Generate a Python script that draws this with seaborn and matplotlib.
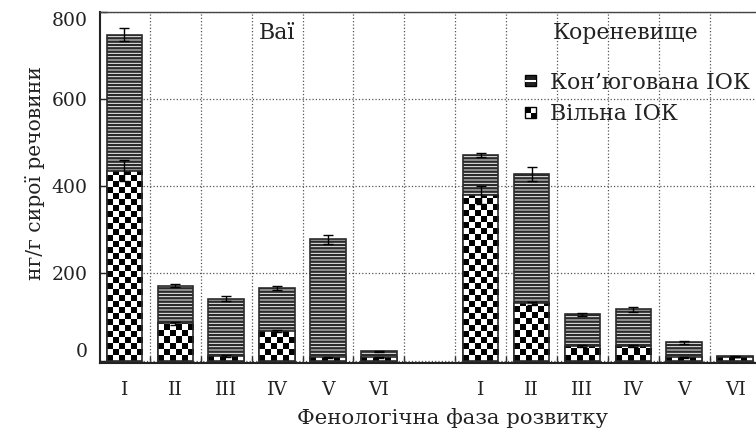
import numpy as np
import pandas as pd
import matplotlib as mpl
mpl.use("Agg")
import matplotlib.pyplot as plt
import seaborn as sns
from matplotlib.legend_handler import HandlerBase
from matplotlib.patches import Rectangle


# data (ng/g fresh weight)
phases = ['I', 'II', 'III', 'IV', 'V', 'VI']
organs = ['Ваї', 'Кореневище']

leaf_free = [436, 85, 10, 68, 7, 7]
leaf_total = [748, 172, 142, 166, 278, 21]
leaf_free_err = [24, 3, 2, 2, 2, 1]
leaf_total_err = [15, 3, 5, 5, 11, 2]

root_free = [380, 131, 33, 33, 7, 8]
root_total = [472, 428, 106, 118, 42, 10]
root_free_err = [20, 4, 2, 2, 1, 1]
root_total_err = [5, 17, 3, 6, 3, 1]

label_conj = 'Кон’югована ІОК'
label_free = 'Вільна ІОК'

CFG_font = 'DejaVu Serif'
CFG_fs_tick = 13.5
CFG_fs_label = 15.3
CFG_fs_ylabel = 14.6
CFG_fs_text = 15.8
CFG_edge = '#2b2b2b'
CFG_text = '#222222'
CFG_cell = 13.8   # checker cell height, data units


def build_frame():
    rows = []
    for organ, free, total, fe, te in ((organs[0], leaf_free, leaf_total, leaf_free_err, leaf_total_err),
                                       (organs[1], root_free, root_total, root_free_err, root_total_err)):
        for p, f, t, a, b in zip(phases, free, total, fe, te):
            rows.append({'key': organ + ' ' + p, 'organ': organ, 'phase': p,
                         'free': f, 'total': t, 'free_err': a, 'total_err': b})
    return pd.DataFrame(rows)


class CheckerHandler(HandlerBase):
    def create_artists(self, legend, orig_handle, xdescent, ydescent, width, height, fontsize, trans):
        s = height
        x0 = -xdescent
        y0 = -ydescent + (height - s) / 2
        h = s / 2
        return [Rectangle((x0, y0), s, s, facecolor='white', edgecolor='none', transform=trans),
                Rectangle((x0, y0 + h), h, h, facecolor='black', edgecolor='none', transform=trans),
                Rectangle((x0 + h, y0), h, h, facecolor='black', edgecolor='none', transform=trans),
                Rectangle((x0, y0), s, s, facecolor='none', edgecolor='black', lw=1, transform=trans)]


class StripeHandler(HandlerBase):
    def create_artists(self, legend, orig_handle, xdescent, ydescent, width, height, fontsize, trans):
        s = height
        x0 = -xdescent
        y0 = -ydescent + (height - s) / 2
        return [Rectangle((x0, y0), s, s, facecolor='#222222', edgecolor='black', lw=1, transform=trans),
                Rectangle((x0, y0 + s * 0.4), s, s * 0.2, facecolor='white', edgecolor='none', transform=trans)]


def main():
    df = build_frame()
    order = [organs[0] + ' ' + p for p in phases] + [' '] + [organs[1] + ' ' + p for p in phases]
    ticklabels = phases + [''] + phases

    sns.set_style('ticks')
    plt.rcParams['font.family'] = [CFG_font, 'DejaVu Sans']
    plt.rcParams['hatch.linewidth'] = 1.75

    fig = plt.figure(figsize=(7.56, 4.37), dpi=100)
    ax = fig.add_axes([100 / 756, 74.3 / 437, 656 / 756, 350.7 / 437])

    # conjugated = full stacked height
    sns.barplot(data=df, x='key', y='total', order=order, width=0.7, errorbar=None,
                color='white', edgecolor=CFG_edge, linewidth=1.2, hatch='-----', ax=ax)
    n0 = len(ax.patches)
    sns.barplot(data=df, x='key', y='free', order=order, width=0.7, errorbar=None,
                color='white', edgecolor=CFG_edge, linewidth=1.2, ax=ax)
    free_patches = ax.patches[n0:]

    # checker pattern for the free fraction
    for p in free_patches:
        x0, w, h = p.get_x(), p.get_width(), p.get_height()
        nrows = int(np.ceil(h / CFG_cell)) + 1
        arr = (np.add.outer(np.arange(nrows), np.arange(6)) % 2).astype(float)
        im = ax.imshow(arr, extent=(x0, x0 + w, 0, nrows * CFG_cell), origin='lower',
                       cmap='gray', vmin=0, vmax=1, interpolation='nearest', aspect='auto', zorder=1.5)
        im.set_clip_path(p)
        p.set_facecolor('none')
        p.set_zorder(2)

    xpos = [order.index(k) for k in df['key']]
    ax.errorbar(xpos, df['total'], yerr=df['total_err'], fmt='none', ecolor='black',
                elinewidth=1, capsize=3.8, capthick=1, zorder=3)
    ax.errorbar(xpos, df['free'], yerr=df['free_err'], fmt='none', ecolor='black',
                elinewidth=1, capsize=3.8, capthick=1, zorder=3)

    ax.set_xlim(-0.48, 12.41)
    ax.set_ylim(-5, 800)
    ax.set_xticks(range(len(order)))
    ax.set_xticklabels(ticklabels)
    ax.set_xticks(np.arange(0.5, len(order) - 1, 1.0), minor=True)
    ax.set_yticks(np.arange(0, 801, 200))
    ax.tick_params(axis='x', which='major', length=0, pad=13, labelsize=CFG_fs_tick, colors=CFG_text)
    ax.tick_params(axis='x', which='minor', direction='in', length=5, width=1, color='#333333')
    ax.tick_params(axis='y', direction='in', length=5, width=1, pad=9, labelsize=CFG_fs_tick, colors=CFG_text)

    # end labels sit a little inside in the original
    ylabels = ax.get_yticklabels()
    ylabels[0].set_verticalalignment('bottom')
    ylabels[-1].set_verticalalignment('top')

    ax.grid(True, axis='x', which='minor', linestyle=':', color='#555555', lw=0.9)
    ax.grid(True, axis='y', which='major', linestyle=':', color='#555555', lw=0.9)
    ax.set_axisbelow(True)

    ax.spines['right'].set_visible(False)
    for s in ('left', 'bottom'):
        ax.spines[s].set_linewidth(1.5)
        ax.spines[s].set_color(CFG_text)
    ax.spines['top'].set_linewidth(1.0)
    ax.spines['top'].set_color('#444444')

    ax.set_xlabel('Фенологічна фаза розвитку', fontsize=CFG_fs_label, color=CFG_text)
    ax.set_ylabel('нг/г сирої речовини', fontsize=CFG_fs_ylabel, color=CFG_text)
    ax.xaxis.set_label_coords(0.538, -0.128)
    ax.yaxis.set_label_coords(-0.084, 0.541)

    ax.text(3.0, 752, organs[0], ha='center', va='center', fontsize=CFG_fs_text, color=CFG_text)
    ax.text(9.85, 752, organs[1], ha='center', va='center', fontsize=CFG_fs_text, color=CFG_text)

    h_conj = Rectangle((0, 0), 1, 1)
    h_free = Rectangle((0, 0), 1, 1)
    ax.legend([h_conj, h_free], [label_conj, label_free],
              handler_map={h_conj: StripeHandler(), h_free: CheckerHandler()},
              loc='upper left', bbox_to_anchor=(0.648, 0.83), frameon=False,
              fontsize=CFG_fs_text, handlelength=0.4, handleheight=0.4, handletextpad=0.75,
              borderpad=0, borderaxespad=0, labelspacing=0.45, labelcolor=CFG_text)

    plt.savefig('out.png', dpi=100)


if __name__ == '__main__':
    main()
